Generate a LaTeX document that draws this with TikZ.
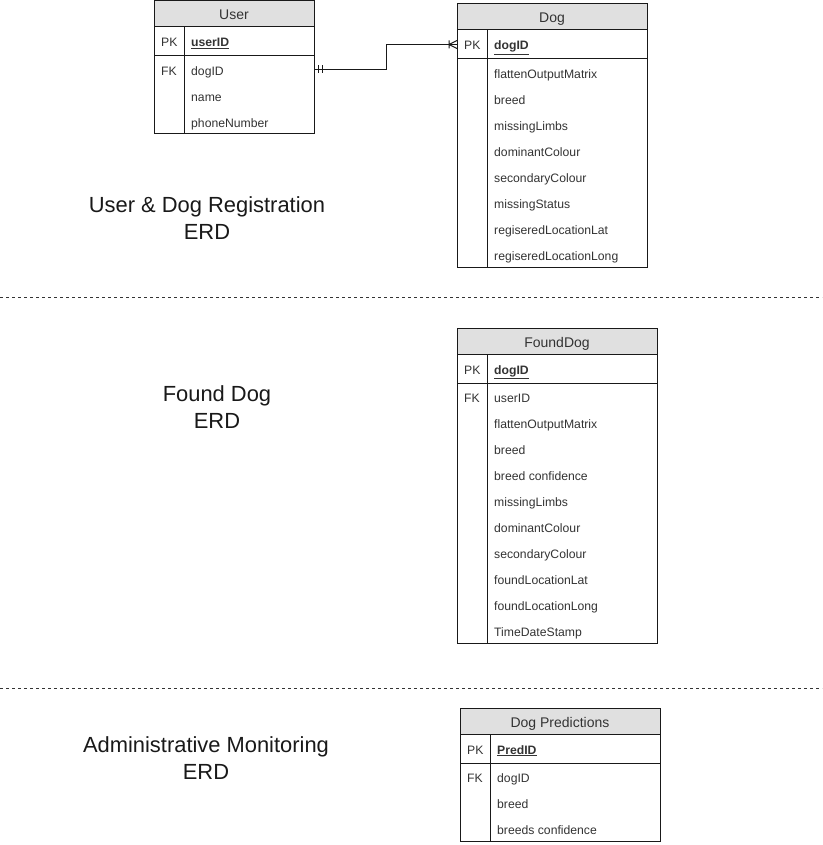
\documentclass[tikz,border=0pt]{standalone}
\usepackage{fontspec}
\setmainfont{Liberation Sans}
\usetikzlibrary{positioning}
\definecolor{headfill}{HTML}{E0E0E0}
\definecolor{ink}{HTML}{333333}
\tikzset{
  tabcell/.style={draw=black!90, line width=1pt, inner sep=0pt, outer sep=0pt, anchor=north west},
  field/.style={anchor=base west, inner sep=0pt, text=ink, font=\fontsize{12.2}{14}\selectfont},
  heading/.style={anchor=base, inner sep=0pt, text=ink, font=\fontsize{14}{16}\selectfont},
  erdlabel/.style={align=center, text=black!90, font=\fontsize{21.9}{27}\selectfont},
  divider/.style={dash pattern=on 3pt off 3pt, draw=black!80, line width=1pt},
  link/.style={draw=black!90, line width=1pt},
}
% #1 name, #2 x, #3 y, #4 width, #5 title, #6 key, #7 fk mark, #8 rows
\newcommand{\erdtable}[8]{%
  \foreach \f [count=\c] in {#8} {\xdef\nrows{\c}}
  \pgfmathsetmacro\bodyh{26*\nrows}
  \node[tabcell, fill=headfill, minimum width=#4, minimum height=26] (#1) at (#2,#3) {};
  \node[heading] (#1-title) at ([yshift=-6pt]#1.center) {#5};
  \node[tabcell, minimum width=#4, minimum height=29] (#1-pk) at (#1.south west) {};
  \node[tabcell, minimum width=#4, minimum height=\bodyh] (#1-body) at (#1-pk.south west) {};
  \draw[link] ([xshift=30pt]#1-pk.north west) -- ([xshift=30pt]#1-body.south west);
  \node[field] (#1-pklab) at ([xshift=7pt,yshift=-5.5pt]#1-pk.west) {PK};
  \node[field] (#1-key) at ([xshift=37pt,yshift=-5.5pt]#1-pk.west) {\underline{\textbf{#6}}};
  \node[field] (#1-fk) at ([xshift=7pt,yshift=-19.5pt]#1-body.north west) {#7};
  \foreach \f [count=\i] in {#8}
    \node[field] (#1-r\i) at ([xshift=37pt,yshift={-19.5-26*(\i-1)}]#1-body.north west) {\f};
}
\begin{document}
\begin{tikzpicture}[x=1pt, y=-1pt]
  \useasboundingbox (0,0) rectangle (822,845);
  % tables
  \erdtable{user}{154}{1}{160}{User}{userID}{FK}{dogID,name,phoneNumber}
  \erdtable{dog}{457}{4}{190}{Dog}{dogID}{}{flattenOutputMatrix,breed,missingLimbs,dominantColour,secondaryColour,missingStatus,regiseredLocationLat,regiseredLocationLong}
  \erdtable{found}{457}{328}{200}{FoundDog}{dogID}{FK}{userID,flattenOutputMatrix,breed,breed confidence,missingLimbs,dominantColour,secondaryColour,foundLocationLat,foundLocationLong,TimeDateStamp}
  \erdtable{pred}{460}{708}{200}{Dog Predictions}{PredID}{FK}{dogID,breed,breeds confidence}
  % user -> dog
  \draw[link] (user-body.north east) ++(0,13.5) coordinate (fkend) -- ++(72,0) |- (dog-pk.west) coordinate (pkend);
  \draw[link] (fkend) ++(4,-4) -- ++(0,8) (fkend) ++(8,-4) -- ++(0,8);
  \draw[link] (pkend) ++(-8,0) -- ++(8,-4) (pkend) ++(-8,0) -- ++(8,4) (pkend) ++(-8,-4) -- ++(0,8);
  % section labels
  \node[erdlabel] (lab1) at (207,218) {User \& Dog Registration\\ERD};
  \node[erdlabel] (lab2) at (217,407) {Found Dog\\ERD};
  \node[erdlabel] (lab3) at (206,758) {Administrative Monitoring\\ERD};
  \draw[divider] (0,297) -- (822,297);
  \draw[divider] (0,688) -- (822,688);
\end{tikzpicture}
\end{document}
